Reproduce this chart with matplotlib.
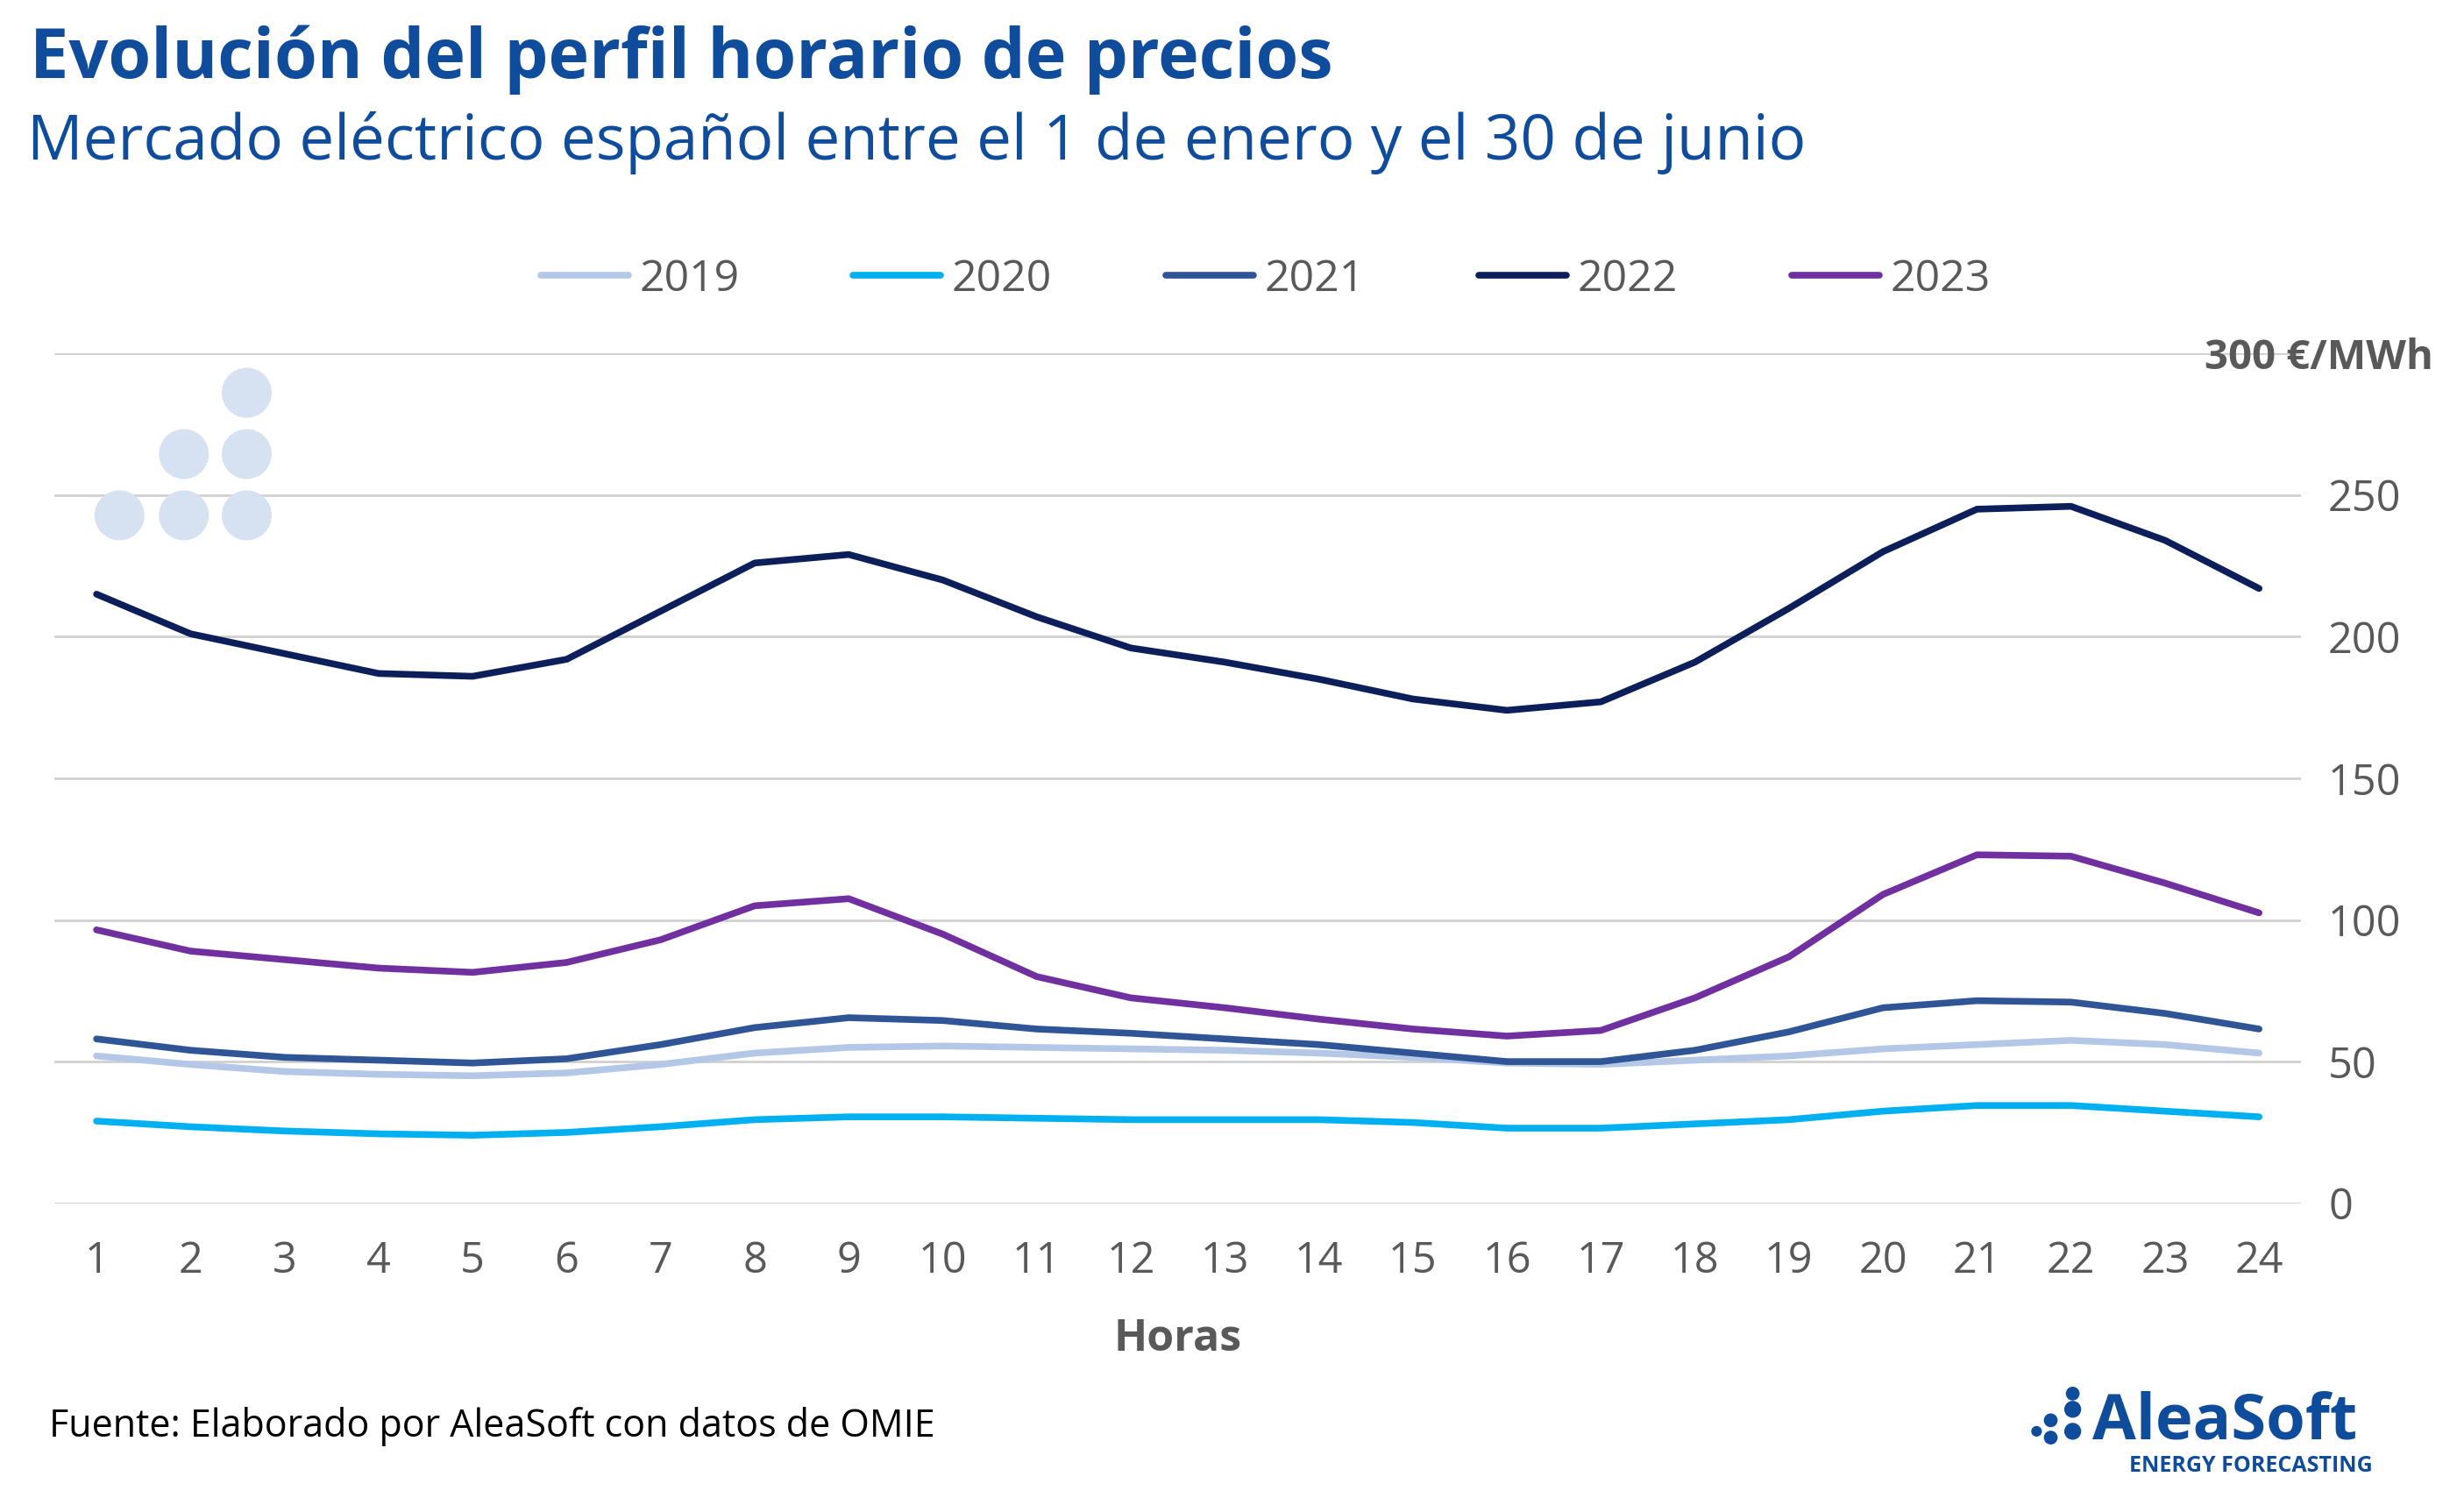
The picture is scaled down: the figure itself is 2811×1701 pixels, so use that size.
import matplotlib
matplotlib.use("Agg")
import matplotlib.pyplot as plt
from matplotlib.patches import Ellipse

hours = list(range(1, 25))
years = ["2019", "2020", "2021", "2022", "2023"]
p2019 = [52, 49, 46.5, 45.5, 45, 46, 49, 53, 55, 55.5, 55, 54.5, 54, 53, 51.5, 49.5, 49, 50.5, 52, 54.5, 56, 57.5, 56, 53]
p2020 = [29, 27, 25.5, 24.5, 24, 25, 27, 29.5, 30.5, 30.5, 30, 29.5, 29.5, 29.5, 28.5, 26.5, 26.5, 28, 29.5, 32.5, 34.5, 34.5, 32.5, 30.5]
p2021 = [58, 54, 51.5, 50.5, 49.5, 51, 56, 62, 65.5, 64.5, 61.5, 60, 58, 56, 53, 50, 50, 54, 60.5, 69, 71.5, 71, 67, 61.5]
p2022 = [215, 201, 194, 187, 186, 192, 209, 226, 229, 220, 207, 196, 191, 185, 178, 174, 177, 191, 210, 230, 245, 246, 234, 217]
p2023 = [96.5, 89, 86, 83, 81.5, 85, 93, 105, 107.5, 95, 80, 72.5, 69, 65, 61.5, 59, 61, 72.5, 87, 109, 123, 122.5, 113, 102.5]
series = [p2019, p2020, p2021, p2022, p2023]
colors = ["#b4c7e7", "#00b0f0", "#2f5597", "#0c1f5b", "#7030a0"]
yticks = [0, 50, 100, 150, 200, 250, 300]
ytick_labels = ["0", "50", "100", "150", "200", "250", "300 €/MWh"]

plt.rcParams["font.family"] = ["Open Sans", "DejaVu Sans"]
fig = plt.figure(figsize=(28.11, 17.01), dpi=100)
ax = fig.add_axes([0.022, 0.193, 0.912, 0.570])
for y, s, c in zip(years, series, colors):
    ax.plot(hours, s, color=c, lw=5.5, label=y, solid_capstyle="round")
ax.set_xlim(0.55, 24.45)
ax.set_ylim(0, 300)
ax.set_xticks(hours)
ax.set_xticklabels([str(h) for h in hours], fontsize=35, color="#595959")
ax.set_yticks(yticks)
ax.set_yticklabels(ytick_labels, fontsize=35, color="#595959")
ax.yaxis.tick_right()
lbl = ax.get_yticklabels()[-1]
lbl.set_fontweight("bold")
lbl.set_fontsize(34)
lbl.set_x(0.945)
ax.tick_params(axis="x", length=0, pad=30)
ax.tick_params(axis="y", length=0, pad=22)
ax.grid(axis="y", color="#d0d0d0", lw=2)
for sp in ax.spines.values():
    sp.set_visible(False)
ax.set_xlabel("Horas", fontsize=36, fontweight="bold", color="#595959", labelpad=28)
ax.legend(loc="lower center", bbox_to_anchor=(0.539, 1.015), ncol=5, frameon=False,
          fontsize=36, handlelength=2.0, handletextpad=0.25, columnspacing=2.6, labelcolor="#595959")

fig.text(0.012, 0.96, "Evolución del perfil horario de precios", fontsize=57, fontweight="bold",
         color="#0f4c9c", va="center")
fig.text(0.011, 0.904, "Mercado eléctrico español entre el 1 de enero y el 30 de junio", fontsize=51,
         color="#0f4c9c", va="center")
fig.text(0.02, 0.043, "Fuente: Elaborado por AleaSoft con datos de OMIE", fontsize=31, color="black", va="center")
fig.text(0.849, 0.046, "AleaSoft", fontsize=52, fontweight="bold", color="#0f4c9c", va="center")
fig.text(0.963, 0.017, "ENERGY FORECASTING", fontsize=18, fontweight="bold", color="#0f4c9c", va="center", ha="right")

for cx, cy in [(76, 328), (117, 328), (157, 328), (117, 289), (157, 289), (157, 250)]:
    fig.patches.append(Ellipse((cx / 1568, 1 - cy / 949), 31 / 1568, 31 / 949, transform=fig.transFigure,
                               color="#d6e2f1", zorder=0))
for cx, cy, rr in [(1296, 911, 3), (1305, 904, 4), (1305, 915, 4), (1319, 897, 5), (1319, 911, 5), (1319, 887, 4)]:
    fig.patches.append(Ellipse((cx / 1568, 1 - cy / 949), 2 * rr / 1568, 2 * rr / 949, transform=fig.transFigure,
                               color="#0f4c9c"))
fig.savefig("out.png", dpi=100)
